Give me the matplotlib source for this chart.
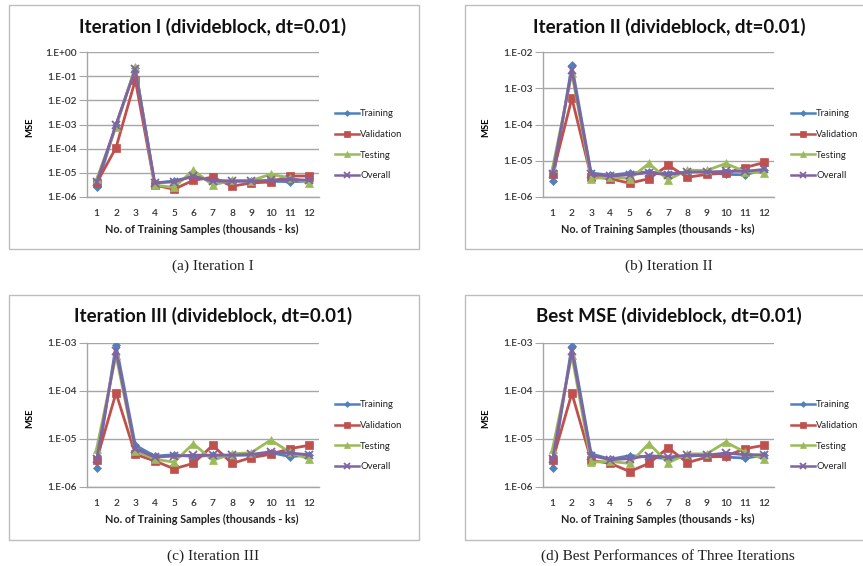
import numpy as np
import matplotlib
matplotlib.use("Agg")
import matplotlib.pyplot as plt
from matplotlib.patches import Rectangle
from matplotlib.ticker import FixedLocator, FuncFormatter, NullLocator

# ---- data -------------------------------------------------------------
samples = list(range(1, 13))
series_names = ["Training", "Validation", "Testing", "Overall"]

iter1_training = [2.6e-6, 9.5e-4, 2.1e-1, 3.8e-6, 4.6e-6, 7.2e-6, 4.9e-6, 4.6e-6, 4.5e-6, 4.5e-6, 4.3e-6, 4.5e-6]
iter1_validation = [3.8e-6, 1.1e-4, 7.0e-2, 3.1e-6, 2.1e-6, 4.9e-6, 6.6e-6, 2.8e-6, 3.8e-6, 4.2e-6, 7.4e-6, 7.4e-6]
iter1_testing = [5.5e-6, 8.0e-4, 2.4e-1, 3.1e-6, 2.5e-6, 1.3e-5, 3.1e-6, 4.9e-6, 4.8e-6, 8.7e-6, 6.2e-6, 3.8e-6]
iter1_overall = [4.0e-6, 1.0e-3, 1.9e-1, 3.9e-6, 4.2e-6, 7.4e-6, 4.5e-6, 4.5e-6, 4.6e-6, 4.9e-6, 5.4e-6, 4.9e-6]

iter2_training = [2.7e-6, 4.3e-3, 4.6e-6, 4.0e-6, 4.6e-6, 4.9e-6, 4.4e-6, 4.9e-6, 4.9e-6, 4.2e-6, 4.1e-6, 5.7e-6]
iter2_validation = [4.2e-6, 5.3e-4, 3.6e-6, 3.2e-6, 2.4e-6, 3.2e-6, 7.5e-6, 3.5e-6, 4.2e-6, 4.6e-6, 6.5e-6, 9.0e-6]
iter2_testing = [6.5e-6, 2.6e-3, 3.2e-6, 3.6e-6, 3.2e-6, 8.4e-6, 3.0e-6, 5.5e-6, 5.4e-6, 8.4e-6, 5.0e-6, 4.6e-6]
iter2_overall = [4.4e-6, 3.2e-3, 4.2e-6, 3.8e-6, 4.1e-6, 4.7e-6, 4.1e-6, 4.9e-6, 4.9e-6, 5.1e-6, 5.1e-6, 5.8e-6]

iter3_training = [2.5e-6, 9.1e-4, 7.4e-6, 4.4e-6, 4.7e-6, 4.3e-6, 4.6e-6, 4.6e-6, 4.6e-6, 5.2e-6, 4.3e-6, 4.6e-6]
iter3_validation = [3.7e-6, 9.1e-5, 4.8e-6, 3.5e-6, 2.4e-6, 3.1e-6, 7.4e-6, 3.1e-6, 4.1e-6, 4.8e-6, 6.3e-6, 7.4e-6]
iter3_testing = [6.3e-6, 5.5e-4, 5.7e-6, 3.8e-6, 3.3e-6, 8.0e-6, 3.6e-6, 4.9e-6, 5.2e-6, 9.5e-6, 5.3e-6, 3.8e-6]
iter3_overall = [3.8e-6, 6.9e-4, 6.3e-6, 4.2e-6, 4.4e-6, 4.6e-6, 4.6e-6, 4.6e-6, 4.8e-6, 5.4e-6, 5.1e-6, 4.7e-6]

best_training = [2.5e-6, 8.8e-4, 4.9e-6, 3.8e-6, 4.5e-6, 4.2e-6, 3.9e-6, 4.4e-6, 4.6e-6, 4.2e-6, 4.0e-6, 4.6e-6]
best_validation = [3.6e-6, 9.0e-5, 3.6e-6, 3.1e-6, 2.1e-6, 3.1e-6, 6.6e-6, 3.2e-6, 4.2e-6, 4.4e-6, 6.3e-6, 7.4e-6]
best_testing = [6.3e-6, 5.5e-4, 3.3e-6, 3.4e-6, 3.1e-6, 8.0e-6, 3.2e-6, 4.9e-6, 4.9e-6, 8.6e-6, 5.3e-6, 3.8e-6]
best_overall = [3.8e-6, 6.9e-4, 4.5e-6, 3.7e-6, 3.9e-6, 4.5e-6, 4.2e-6, 4.6e-6, 4.6e-6, 5.1e-6, 4.7e-6, 4.7e-6]

titles = ["Iteration I (divideblock, dt=0.01)", "Iteration II (divideblock, dt=0.01)",
          "Iteration III (divideblock, dt=0.01)", "Best MSE (divideblock, dt=0.01)"]
captions = ["(a) Iteration I", "(b) Iteration II", "(c) Iteration III",
            "(d) Best Performances of Three Iterations"]
y_top_exponents = [0, -2, -3, -3]

# ---- styling ----------------------------------------------------------
colors = ["#4F81BD", "#C0504D", "#9BBB59", "#8064A2"]
markers = ["D", "s", "^", "x"]
msizes = [4.2, 6.0, 6.2, 5.5]
SANS = "Lato"
SERIF = "Liberation Serif"

W, H = 863, 566
fig = plt.figure(figsize=(W / 100, H / 100), dpi=100)
fig.patch.set_facecolor("white")


def fx(px):
    return px / W


def fy(py):
    return 1 - py / H


panels = [
    dict(data=(iter1_training, iter1_validation, iter1_testing, iter1_overall),
         box=(9, 5, 419, 249), ax=(87, 52, 319, 197), dy=0, dx=0),
    dict(data=(iter2_training, iter2_validation, iter2_testing, iter2_overall),
         box=(465, 5, 870, 249), ax=(543, 52, 774, 197), dy=0, dx=456),
    dict(data=(iter3_training, iter3_validation, iter3_testing, iter3_overall),
         box=(9, 295, 419, 540), ax=(87, 343, 319, 487), dy=290, dx=0),
    dict(data=(best_training, best_validation, best_testing, best_overall),
         box=(465, 295, 870, 540), ax=(543, 343, 774, 487), dy=290, dx=456),
]

for i, p in enumerate(panels):
    bx0, by0, bx1, by1 = p["box"]
    fig.patches.append(Rectangle((fx(bx0), fy(by1)), fx(bx1 - bx0), (by1 - by0) / H,
                                 transform=fig.transFigure, fill=False,
                                 edgecolor="#BDBDBD", linewidth=1.0))
    ax0, ay0, ax1, ay1 = p["ax"]
    ax = fig.add_axes([fx(ax0), fy(ay1), fx(ax1 - ax0), (ay1 - ay0) / H])
    ax.set_yscale("log")
    top = y_top_exponents[i]
    ax.set_ylim(1e-6, 10.0 ** top)
    ax.set_xlim(0.5, 12.5)
    exps = list(range(-6, top + 1))
    ax.yaxis.set_major_locator(FixedLocator([10.0 ** e for e in exps]))
    ax.yaxis.set_minor_locator(NullLocator())
    ax.yaxis.set_major_formatter(FuncFormatter(
        lambda v, pos: "1.E%+03d" % int(round(np.log10(v)))))
    ax.set_xticks(samples)
    ax.set_xticklabels([str(s) for s in samples])
    ax.grid(axis="y", color="#A6A6A6", linewidth=1.0)
    ax.set_axisbelow(True)
    for s in ["top", "right"]:
        ax.spines[s].set_visible(False)
    for s in ["left", "bottom"]:
        ax.spines[s].set_color("#A6A6A6")
        ax.spines[s].set_linewidth(1.0)
    ax.tick_params(axis="y", length=6, color="#A6A6A6", labelsize=7.3, pad=1.5)
    ax.tick_params(axis="x", length=0, labelsize=7.3, pad=9)
    for lab in ax.get_xticklabels() + ax.get_yticklabels():
        lab.set_fontfamily(SANS)
        lab.set_color("#333333")
        lab.set_fontweight("semibold")

    for vals, name, c, m, ms in zip(p["data"], series_names, colors, markers, msizes):
        ax.plot(samples, vals, color=c, marker=m, markersize=ms, linewidth=2.0,
                markeredgewidth=1.3 if m == "x" else 0.5, markeredgecolor=c,
                label=name, solid_joinstyle="miter")

    dx, dy = p["dx"], p["dy"]
    # titles
    fig.text(fx(213 + dx), fy(27 + dy + (0 if dy == 0 else -1)), titles[i],
             ha="center", va="center", fontsize=13.5, fontweight="bold",
             family=SANS, color="#111111")
    # axis labels
    fig.text(fx(30 + dx), fy((ay0 + ay1) / 2 + 3), "MSE", rotation=90, ha="center",
             va="center", fontsize=6.8, fontweight="bold", family=SANS)
    fig.text(fx(202 + dx), fy(ay1 + 32), "No. of Training Samples (thousands - ks)",
             ha="center", va="center", fontsize=7.8, fontweight="bold", family=SANS,
             color="#222222")
    # captions
    cap_x = 213 + dx if i < 3 else 668
    cap_y = 266 if dy == 0 else 556
    fig.text(fx(cap_x), fy(cap_y), captions[i], ha="center", va="center",
             fontsize=11, family=SERIF, color="#222222")
    # legend
    leg_y = 113 + dy + (0 if dy == 0 else 1)
    leg = ax.legend(loc="upper left", bbox_to_anchor=(fx(335 + dx), fy(leg_y - 4)),
                    bbox_transform=fig.transFigure, frameon=False,
                    handlelength=2.5, handletextpad=0.15, labelspacing=1.25,
                    borderaxespad=0, borderpad=0, markerscale=0.7,
                    prop=dict(family=SANS, size=6.8))
    for t in leg.get_texts():
        t.set_color("#222222")
    for ln in leg.get_lines():
        ln.set_linewidth(1.8)

fig.savefig("out.png", dpi=100, facecolor="white")
